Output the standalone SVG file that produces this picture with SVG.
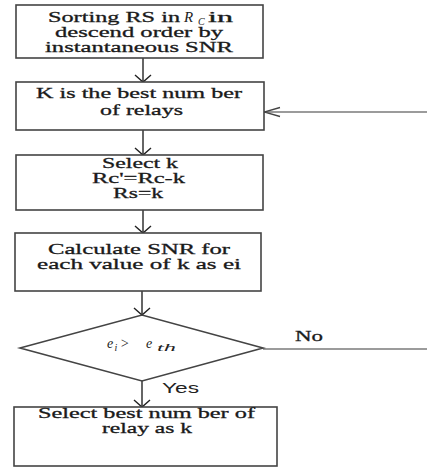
<svg xmlns="http://www.w3.org/2000/svg" width="427" height="468" viewBox="0 0 427 468">
<style>
.box{fill:#fff;stroke:#444;stroke-width:1.6}
.t{font-family:"Liberation Serif","Times New Roman",serif;font-size:15px;fill:#1a1a1a;stroke:#1a1a1a;stroke-width:0.3;text-anchor:middle}
.ts{font-family:"Liberation Serif","Times New Roman",serif;font-size:15px;fill:#1a1a1a;stroke:#1a1a1a;stroke-width:0.3}
.m{font-family:"Liberation Serif","Times New Roman",serif;font-style:italic;fill:#222}
.c{fill:none;stroke:#333;stroke-width:1.5}
.cg{fill:none;stroke:#7a7a7a;stroke-width:1.5}
.yes{font-family:"Liberation Sans",Arial,sans-serif;font-size:14px;fill:#222}
</style>
<defs>
<marker id="av" markerUnits="userSpaceOnUse" markerWidth="20" markerHeight="20" viewBox="-10 -10 20 20" refX="0" refY="0" orient="auto">
<path d="M-7,-8 L0,0 L-7,8" fill="none" stroke="#222" stroke-width="1.4"/>
</marker>
<marker id="ah" markerUnits="userSpaceOnUse" markerWidth="20" markerHeight="20" viewBox="-18 -10 20 20" refX="0" refY="0" orient="auto">
<path d="M-16,-4.5 L0,0 L-16,4.5" fill="none" stroke="#444" stroke-width="1.3"/>
</marker>
</defs>
<g id="connectors">
<line class="c" x1="143" y1="58" x2="143" y2="82" marker-end="url(#av)"/>
<line class="c" x1="143" y1="130" x2="143" y2="155" marker-end="url(#av)"/>
<line class="c" x1="143" y1="210" x2="143" y2="233" marker-end="url(#av)"/>
<line class="c" x1="142" y1="291" x2="142" y2="315" marker-end="url(#av)"/>
<line class="c" x1="142" y1="381" x2="142" y2="407" marker-end="url(#av)"/>
<line class="cg" x1="427" y1="112" x2="264" y2="112" marker-end="url(#ah)"/>
<line class="cg" x1="263" y1="349" x2="427" y2="349"/>
<text class="ts" x="295" y="341" textLength="28" lengthAdjust="spacingAndGlyphs">No</text>
<text class="yes" x="162" y="393" textLength="37" lengthAdjust="spacingAndGlyphs">Yes</text>
</g>
<g id="n1">
<rect class="box" x="16" y="5" width="247" height="53"/>
<text class="ts" x="48" y="22" textLength="132" lengthAdjust="spacingAndGlyphs">Sorting RS in</text>
<text class="m" x="184" y="22" font-size="15">R</text>
<text class="m" x="198" y="25" font-size="10">C</text>
<text class="ts" x="208" y="22" textLength="25" lengthAdjust="spacingAndGlyphs">in</text>
<text class="t" x="139" y="37" textLength="168" lengthAdjust="spacingAndGlyphs">descend order by</text>
<text class="t" x="139" y="52" textLength="188" lengthAdjust="spacingAndGlyphs">instantaneous SNR</text>
</g>
<g id="n2">
<rect class="box" x="16" y="82" width="248" height="48"/>
<text class="t" x="139" y="98" textLength="206" lengthAdjust="spacingAndGlyphs">K is the best num ber</text>
<text class="t" x="141.5" y="115" textLength="83" lengthAdjust="spacingAndGlyphs">of relays</text>
</g>
<g id="n3">
<rect class="box" x="16" y="155" width="247" height="55"/>
<text class="t" x="140" y="168" font-size="14" textLength="76" lengthAdjust="spacingAndGlyphs">Select k</text>
<text class="t" x="138.5" y="183" font-size="14" textLength="93" lengthAdjust="spacingAndGlyphs">Rc'=Rc-k</text>
<text class="t" x="138" y="198" font-size="14" textLength="50" lengthAdjust="spacingAndGlyphs">Rs=k</text>
</g>
<g id="n4">
<rect class="box" x="15" y="233" width="246" height="58"/>
<text class="t" x="139" y="254" textLength="182" lengthAdjust="spacingAndGlyphs">Calculate SNR for</text>
<text class="t" x="139" y="269" textLength="204" lengthAdjust="spacingAndGlyphs">each value of k as ei</text>
</g>
<g id="n5">
<polygon class="box" points="20,348 142,315 263,348 142,381"/>
<text class="m" x="107" y="348" font-size="14">e</text>
<text class="m" x="114.5" y="351" font-size="10">i</text>
<text class="m" x="120" y="348" font-size="14">&gt;</text>
<text class="m" x="146" y="348" font-size="14">e</text>
<text class="m" x="157" y="351" font-size="11" textLength="19" lengthAdjust="spacingAndGlyphs">th</text>
</g>
<g id="n6">
<rect class="box" x="14" y="407" width="263" height="59"/>
<text class="t" x="146.5" y="418" textLength="217" lengthAdjust="spacingAndGlyphs">Select best num ber of</text>
<text class="t" x="147" y="433" textLength="90" lengthAdjust="spacingAndGlyphs">relay as k</text>
</g>
</svg>
